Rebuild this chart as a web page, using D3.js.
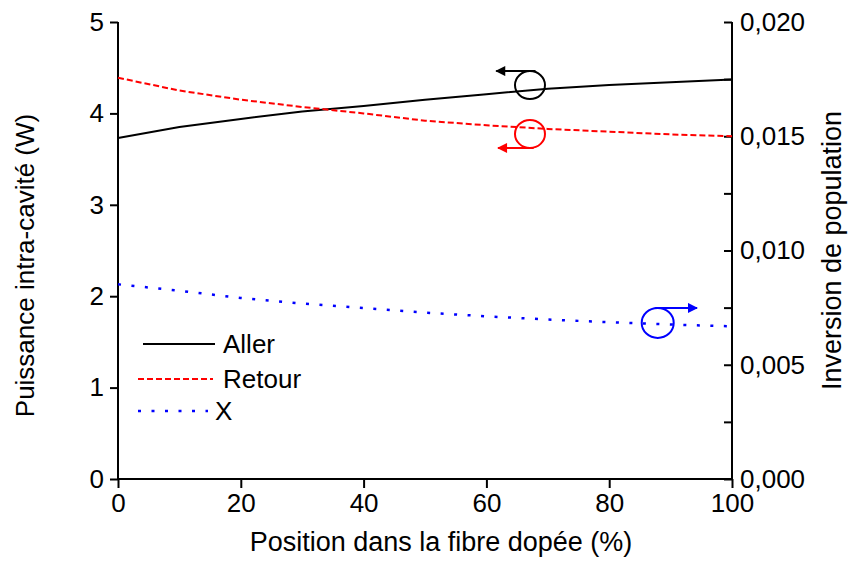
<!DOCTYPE html>
<html>
<head>
<meta charset="utf-8">
<script src="https://cdn.jsdelivr.net/npm/d3@7"></script>
<style>
  html, body { margin: 0; padding: 0; background: #fff; }
  svg text { font-family: "Liberation Sans", Arial, sans-serif; }
</style>
</head>
<body>
<svg id="chart" width="848" height="562"></svg>
<script>
// ---- Data ----
const positions = [0, 10, 20, 30, 40, 50, 60, 70, 80, 90, 100];
const aller  = [3.73, 3.85, 3.94, 4.02, 4.08, 4.15, 4.21, 4.27, 4.31, 4.34, 4.37];
const retour = [4.39, 4.25, 4.15, 4.07, 4.00, 3.92, 3.87, 3.83, 3.80, 3.77, 3.75];
const inversionX = [0.00852, 0.00824, 0.00792, 0.00768, 0.00748, 0.00728, 0.00712, 0.00698, 0.00686, 0.00676, 0.00668];
const xTicks = [0, 20, 40, 60, 80, 100];
const yLeftTicks = [0, 1, 2, 3, 4, 5];
const yRightMajor = [0, 0.005, 0.010, 0.015, 0.020];
const yRightMinor = [0.0025, 0.0075, 0.0125, 0.0175];
const legendLabels = ["Aller", "Retour", "X"];

(function () {
// ---- Layout ----
const svg = d3.select("#chart");
const pL = 118, pR = 732, pT = 22, pB = 479;
const FS = 26, FT = 27;

const x = d3.scaleLinear().domain([0, 100]).range([pL, pR]);
const yL = d3.scaleLinear().domain([0, 5]).range([pB, pT]);
const yR = d3.scaleLinear().domain([0, 0.020]).range([pB, pT]);

const fmtR = v => d3.format(".3f")(v).replace(".", ",");

// axes
const xAxis = d3.axisBottom(x).tickValues(xTicks).tickSize(9).tickPadding(6).tickFormat(d3.format("d"));
const gx = svg.append("g").attr("transform", `translate(0,${pB})`).call(xAxis);

const yAxisL = d3.axisLeft(yL).tickValues(yLeftTicks).tickSize(8).tickPadding(6).tickFormat(d3.format("d"));
const gyl = svg.append("g").attr("transform", `translate(${pL},0)`).call(yAxisL);

const yAxisR = d3.axisRight(yR).tickValues(yRightMajor).tickSize(-8).tickPadding(10).tickFormat(fmtR);
const gyr = svg.append("g").attr("transform", `translate(${pR},0)`).call(yAxisR);
const yAxisRMinor = d3.axisRight(yR).tickValues(yRightMinor).tickSize(-8).tickFormat("");
const gyrm = svg.append("g").attr("transform", `translate(${pR},0)`).call(yAxisRMinor);

[gx, gyl, gyr, gyrm].forEach(g => {
  g.selectAll(".domain").attr("stroke", "#000").attr("stroke-width", 2);
  g.selectAll(".tick line").attr("stroke", "#000").attr("stroke-width", 2);
  g.selectAll(".tick text").attr("fill", "#000").style("font-size", FS + "px");
});
gx.selectAll(".domain").attr("d", `M${pL},0H${pR}`);
gyl.selectAll(".domain").attr("d", `M0,${pB}V${pT}`);
gyr.selectAll(".domain").attr("d", `M0,${pB}V${pT}`);
gyrm.selectAll(".domain").remove();
gyr.selectAll(".tick text").attr("x", 8);

// axis titles
svg.append("text").attr("x", (pL + pR) / 2 + 16).attr("y", 551)
  .attr("text-anchor", "middle").style("font-size", FT + "px")
  .text("Position dans la fibre dopée (%)");
svg.append("text").attr("transform", `translate(34,${(pT + pB) / 2 + 15}) rotate(-90)`)
  .attr("text-anchor", "middle").style("font-size", FS + "px")
  .text("Puissance intra-cavité (W)");
svg.append("text").attr("transform", `translate(841,${(pT + pB) / 2}) rotate(-90)`)
  .attr("text-anchor", "middle").style("font-size", FT + "px")
  .text("Inversion de population");

// lines
const lineL = d3.line().x((d, i) => x(positions[i])).y(d => yL(d));
const lineR = d3.line().x((d, i) => x(positions[i])).y(d => yR(d));

const styles = [
  { color: "#000", dash: null, width: 2 },
  { color: "#ff0000", dash: "6,3", width: 2 },
  { color: "#0000ff", dash: "3,10.5", width: 2.5 }
];

svg.append("path").attr("d", lineL(aller)).attr("fill", "none")
  .attr("stroke", styles[0].color).attr("stroke-width", styles[0].width);
svg.append("path").attr("d", lineL(retour)).attr("fill", "none")
  .attr("stroke", styles[1].color).attr("stroke-width", styles[1].width).attr("stroke-dasharray", styles[1].dash);
svg.append("path").attr("d", lineR(inversionX)).attr("fill", "none")
  .attr("stroke", styles[2].color).attr("stroke-width", styles[2].width).attr("stroke-dasharray", styles[2].dash);

// annotations: circle + arrow indicating axis
const defs = svg.append("defs");
["#000", "#ff0000", "#0000ff"].forEach((c, i) => {
  defs.append("marker").attr("id", "arr" + i).attr("viewBox", "0 0 10 10")
    .attr("refX", 9).attr("refY", 5).attr("markerWidth", 7).attr("markerHeight", 5)
    .attr("markerUnits", "strokeWidth").attr("orient", "auto")
    .append("path").attr("d", "M0,0L10,5L0,10Z").attr("fill", c);
});

function annot(cx, cy, yScale, rx, ry, ax0, ax1, atBottom, color, idx) {
  const px = x(cx), py = yScale(cy);
  svg.append("ellipse").attr("cx", px).attr("cy", py).attr("rx", rx).attr("ry", ry)
    .attr("fill", "none").attr("stroke", color).attr("stroke-width", 2);
  const ay = atBottom ? py + ry : py - ry;
  svg.append("line").attr("x1", x(ax0)).attr("x2", x(ax1)).attr("y1", ay).attr("y2", ay)
    .attr("stroke", color).attr("stroke-width", 2).attr("marker-end", `url(#arr${idx})`);
}
annot(67.1, 4.31, yL, 15, 14, 68.0, 61.6, false, "#000", 0);
annot(67.1, 3.775, yL, 15, 14, 67.7, 61.9, true, "#ff0000", 1);
annot(87.9, 0.00683, yR, 16, 15, 87.5, 94.3, false, "#0000ff", 2);

// legend
const legY = [344, 379, 411];
const legX0 = [143, 138, 138], legX1 = [215, 213, 208];
const legTX = [223, 223, 215];
legendLabels.forEach((lab, i) => {
  svg.append("line").attr("x1", legX0[i]).attr("x2", legX1[i]).attr("y1", legY[i]).attr("y2", legY[i])
    .attr("stroke", styles[i].color).attr("stroke-width", styles[i].width)
    .attr("stroke-dasharray", styles[i].dash);
  svg.append("text").attr("x", legTX[i]).attr("y", legY[i] + 9)
    .style("font-size", FS + "px").text(lab);
});
})();
</script>
</body>
</html>
